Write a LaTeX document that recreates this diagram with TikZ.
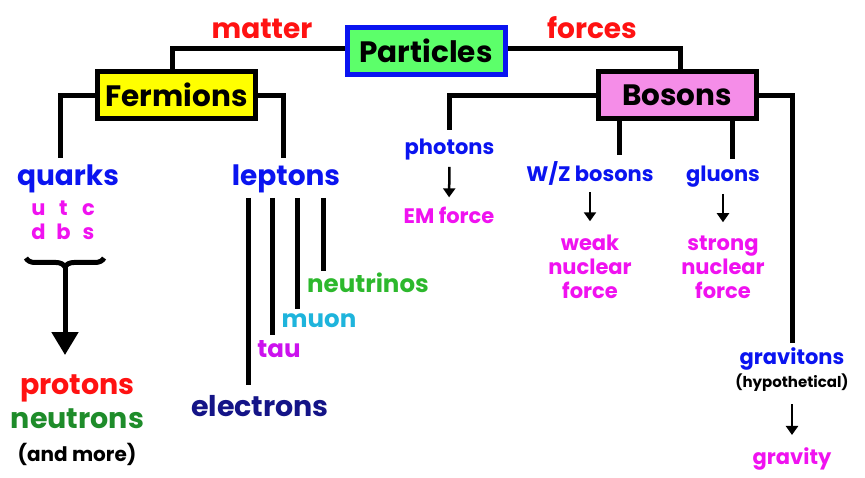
\documentclass[tikz,border=0pt]{standalone}
\usepackage{fontspec}
\setmainfont{Poppins}
\usetikzlibrary{arrows.meta,decorations.pathreplacing,calc}
\definecolor{cred}{HTML}{FF1212}
\definecolor{cblue}{HTML}{0A14F0}
\definecolor{cmag}{HTML}{F012F0}
\definecolor{cgreenD}{HTML}{1E8C2A}
\definecolor{cgreenL}{HTML}{2DB82D}
\definecolor{ccyan}{HTML}{1EB4DC}
\definecolor{cpurple}{HTML}{CC11EE}
\definecolor{cnavy}{HTML}{141487}
\definecolor{fgreen}{HTML}{5CFF6A}
\definecolor{fyellow}{HTML}{FFFF00}
\definecolor{fpink}{HTML}{F58DE8}
\begin{document}
\begin{tikzpicture}[x=1pt,y=-1pt,
  lbl/.style={anchor=base, inner sep=0pt, font=\bfseries\fontsize{#1}{#1}\selectfont},
  lbl/.default=21,
  box/.style={draw, line width=5pt, minimum width=158pt, minimum height=47pt, inner sep=0pt,
    font=\bfseries\fontsize{29.5}{31}\selectfont},
  conn/.style={line width=5pt},
  arr/.style={line width=2.5pt, -{Triangle[width=12pt,length=9pt]}},
  bigarr/.style={line width=5pt, -{Triangle[width=26pt,length=23pt]}}
]
\useasboundingbox (0,0) rectangle (865,478);
\fill[white] (0,0) rectangle (865,478);

% boxes
\node[box, draw=cblue, fill=fgreen] (particles) at (426,51) {Particles};
\node[box, fill=fyellow] (fermions) at (176.5,95) {Fermions};
\node[box, fill=fpink] (bosons) at (677,95) {Bosons};

% top labels
\node[lbl=28, text=cred] (matter) at (262,39) {matter};
\node[lbl=28, text=cred] (forces) at (592,39) {forces};

% fermion side
\node[lbl=28, text=cblue] (quarks) at (68,186) {quarks};
\node[lbl=28, text=cblue] (leptons) at (286,186) {leptons};
\node[lbl=21, text=cmag] (qrow1) at (63.5,216) {\makebox[25pt]{u}\makebox[25pt]{t}\makebox[25pt]{c}};
\node[lbl=21, text=cmag] (qrow2) at (63.5,240) {\makebox[25pt]{d}\makebox[25pt]{b}\makebox[25pt]{s}};
\node[lbl=28.5, text=cred] (protons) at (77.5,395) {protons};
\node[lbl=28.5, text=cgreenD] (neutrons) at (77.5,428) {neutrons};
\node[lbl=20, text=black] (andmore) at (77,461) {(and more)};

\node[lbl=24.5, text=cgreenL] (neutrinos) at (368,293) {neutrinos};
\node[lbl=24.5, text=ccyan] (muon) at (319,327) {muon};
\node[lbl=24.5, text=cpurple] (tau) at (279,358) {tau};
\node[lbl=28.5, text=cnavy] (electrons) at (260,416) {electrons};

% boson side
\node[lbl=21, text=cblue] (photons) at (449.5,155) {photons};
\node[lbl=21, text=cmag] (emforce) at (449,224) {EM force};
\node[lbl=21, text=cblue] (wz) at (590,182) {W/Z bosons};
\node[lbl=21, text=cblue] (gluons) at (723,182) {gluons};
\node[lbl=21, text=cmag] (weak) at (590,251) {weak};
\node[lbl=21, text=cmag] (weak2) at (590,275) {nuclear};
\node[lbl=21, text=cmag] (weak3) at (590,299) {force};
\node[lbl=21, text=cmag] (strong) at (723,251) {strong};
\node[lbl=21, text=cmag] (strong2) at (723,275) {nuclear};
\node[lbl=21, text=cmag] (strong3) at (723,299) {force};
\node[lbl=21, text=cblue] (gravitons) at (792,365) {gravitons};
\node[lbl=15, text=black] (hypo) at (792,388) {(hypothetical)};
\node[lbl=21, text=cmag] (gravity) at (792,464) {gravity};

% tree connectors
\draw[conn] ([yshift=2pt]particles.west) -| ([xshift=-4.5pt]fermions.north);
\draw[conn] ([yshift=2pt]particles.east) -| ([xshift=3pt]bosons.north);
\draw[conn, shorten >=7pt] ([yshift=-1pt]fermions.west) -| ([xshift=-8pt]quarks.north);
\draw[conn, shorten >=7pt] ([yshift=-1pt]fermions.east) -| ([xshift=-3pt]leptons.north);
\draw[conn, shorten >=9pt] ([yshift=-1pt]bosons.west) -| (photons.north);
\draw[conn, shorten >=5pt] ([yshift=-1pt]bosons.east) -| ([xshift=0pt]gravitons.north);
\coordinate (bwz) at ([xshift=-58pt]bosons.south);
\coordinate (bgl) at ([xshift=55pt]bosons.south);
\draw[conn, shorten >=7pt] (bwz) -- (bwz |- wz.north);
\draw[conn, shorten >=7pt] (bgl) -- (bgl |- gluons.north);

% lepton lines
\coordinate (l1) at (248,198);
\coordinate (l2) at (272,198);
\coordinate (l3) at (297,198);
\coordinate (l4) at (323,198);
\draw[conn, shorten >=10pt] (l1) -- (l1 |- electrons.north);
\draw[conn, shorten >=6pt] (l2) -- (l2 |- tau.north);
\draw[conn, shorten >=4pt] (l3) -- (l3 |- muon.north);
\draw[conn, shorten >=2pt] (l4) -- (l4 |- neutrinos.north);

% arrows
\draw[arr, shorten <=6pt, shorten >=10pt] (photons.south) -- (emforce.north);
\draw[arr, shorten <=6pt, shorten >=14pt] (wz.south) -- (weak.north);
\draw[arr, shorten <=6pt, shorten >=14pt] (gluons.south) -- (strong.north);
\draw[arr, shorten <=12pt, shorten >=12pt] (hypo.south) -- (gravity.north);

% brace and big arrow
\draw[line width=5pt, decorate, decoration={brace, mirror, amplitude=9pt}] (26,258) -- (104,258);
\coordinate (bracetip) at (65,266);
\draw[bigarr, shorten >=20pt] (bracetip) -- (bracetip |- protons.north);
\end{tikzpicture}
\end{document}
